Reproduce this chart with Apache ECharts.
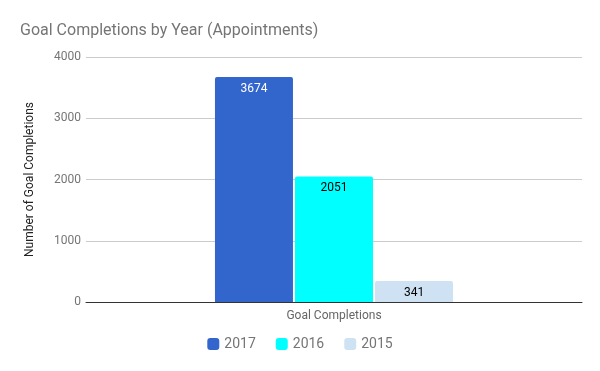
<!DOCTYPE html>
<html><head><meta charset="utf-8">
<script src="https://cdn.jsdelivr.net/npm/echarts@6/dist/echarts.min.js"></script>
<style>html,body{margin:0;padding:0;background:#fff}#c{width:600px;height:371px}</style>
</head><body><div id="c"></div>
<script>
const categories = ['Goal Completions'];
const seriesNames = ['2017', '2016', '2015'];
const values2017 = [3674];
const values2016 = [2051];
const values2015 = [341];
const colors = ['#3366cc', '#00ffff', '#cfe2f3'];
const labelColors = ['#ffffff', '#000000', '#000000'];
const yTicks = [0, 1000, 2000, 3000, 4000];
const allValues = [values2017, values2016, values2015];

const chart = echarts.init(document.getElementById('c'), null, {renderer: 'canvas'});
const font = 'Roboto, "Noto Sans", sans-serif';
chart.setOption({
  animation: false,
  textStyle: {fontFamily: font},
  title: {
    text: 'Goal Completions by Year (Appointments)',
    left: 15, top: 18,
    textStyle: {fontSize: 16, fontWeight: 'normal', color: '#757575', fontFamily: font}
  },
  legend: {
    data: seriesNames,
    bottom: 15, left: 'center',
    itemWidth: 12, itemHeight: 12, itemGap: 20,
    icon: 'roundRect',
    textStyle: {fontSize: 14, color: '#757575', fontFamily: font}
  },
  grid: {left: 86, right: 18, top: 57, bottom: 69, containLabel: false},
  xAxis: {
    type: 'category',
    data: categories,
    axisLine: {lineStyle: {color: '#333333', width: 1}},
    axisTick: {show: false},
    axisLabel: {color: '#666666', fontSize: 12, margin: 8, fontFamily: font}
  },
  yAxis: {
    type: 'value',
    min: yTicks[0], max: yTicks[yTicks.length - 1], interval: 1000,
    name: 'Number of Goal Completions',
    nameLocation: 'middle',
    nameGap: 50,
    nameTextStyle: {color: '#222222', fontSize: 12, fontFamily: font},
    axisLine: {show: false},
    axisTick: {show: false},
    axisLabel: {color: '#757575', fontSize: 12, margin: 5, fontFamily: font,
      formatter: v => String(v)},
    splitLine: {lineStyle: {color: '#cccccc', width: 1}}
  },
  series: seriesNames.map((n, i) => ({
    name: n,
    type: 'bar',
    data: allValues[i],
    barWidth: 78,
    barGap: '2.6%',
    itemStyle: {color: colors[i], borderRadius: [2, 2, 0, 0]},
    label: {
      show: true, position: 'insideTop', distance: 6,
      color: labelColors[i], fontSize: 12, fontFamily: font
    }
  }))
});
</script></body></html>
